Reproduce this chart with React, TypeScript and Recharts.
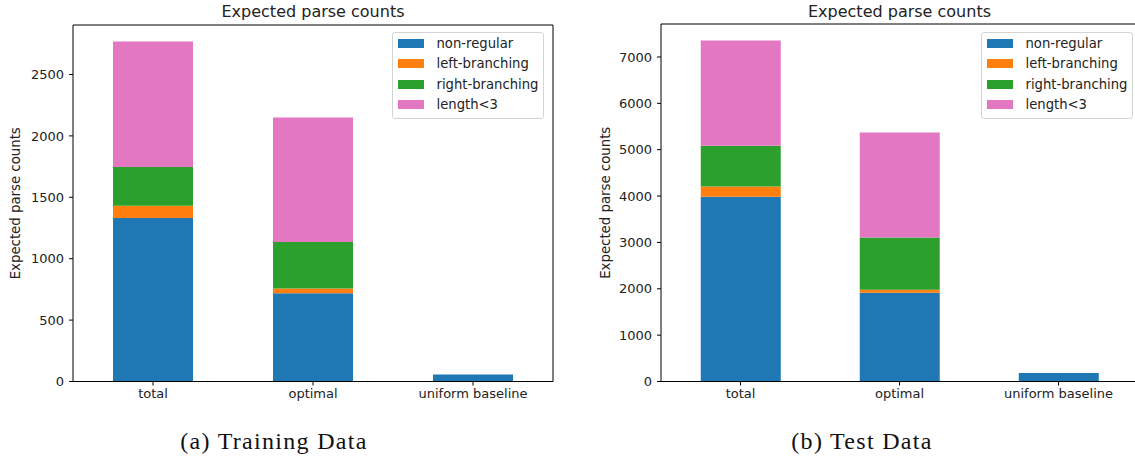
import React from 'react';
import { BarChart, Bar, XAxis, YAxis, Legend } from 'recharts';

const categories = ['total', 'optimal', 'uniform baseline'];
const seriesNames = ['non-regular', 'left-branching', 'right-branching', 'length<3'];
const seriesColors = ['#1f77b4', '#ff7f0e', '#2ca02c', '#e377c2'];

// training data
const trainNonRegular = [1332, 718, 57];
const trainLeft = [100, 40, 0];
const trainRight = [315, 378, 0];
const trainShort = [1022, 1013, 0];
const trainTicks = [0, 500, 1000, 1500, 2000, 2500];

// test data, panel (b)
const testNonRegular = [3985, 1914, 181];
const testLeft = [223, 65, 0];
const testRight = [878, 1128, 0];
const testShort = [2272, 2266, 0];
const testTicks = [0, 1000, 2000, 3000, 4000, 5000, 6000, 7000];

const FONT = '"DejaVu Sans", sans-serif';
const keys = ['nonRegular', 'left', 'right', 'short'];

function buildRows(a: number[], b: number[], c: number[], d: number[]) {
  return categories.map((name, i) => ({
    name,
    nonRegular: a[i],
    left: b[i],
    right: c[i],
    short: d[i],
  }));
}

const trainRows = buildRows(trainNonRegular, trainLeft, trainRight, trainShort);
const testRows = buildRows(testNonRegular, testLeft, testRight, testShort);

function LegendBox() {
  return (
    <div
      style={{
        width: 150,
        border: '1px solid #d4d4d4',
        borderRadius: 3,
        background: 'rgba(255,255,255,0.85)',
        paddingBottom: 2.5,
        fontFamily: FONT,
        fontSize: 13.2,
        color: '#222',
      }}
    >
      {seriesNames.map((n, i) => (
        <div key={n} style={{ display: 'flex', alignItems: 'center', height: 20.5 }}>
          <span
            style={{
              display: 'inline-block',
              width: 26,
              height: 9,
              marginLeft: 5,
              marginRight: 12.5,
              background: seriesColors[i],
            }}
          />
          <span style={{ whiteSpace: 'nowrap' }}>{n}</span>
        </div>
      ))}
    </div>
  );
}

function YLabel({ viewBox, at }: any) {
  const x = (viewBox?.x ?? 0) + at;
  const y = (viewBox?.y ?? 0) + (viewBox?.height ?? 0) / 2;
  return (
    <text
      x={x}
      y={y}
      transform={`rotate(-90, ${x}, ${y})`}
      textAnchor="middle"
      dominantBaseline="central"
      fontFamily={FONT}
      fontSize={13.3}
      fill="#222"
    >
      Expected parse counts
    </text>
  );
}

function Panel({ rows, ticks, max, width, yWidth, top, right, labelAt, legendLeft }: any) {
  const axisStyle = { stroke: '#000', strokeWidth: 1 };
  const tickStyle = { fill: '#222', fontSize: 13, fontFamily: FONT };
  return (
    <BarChart
      width={width}
      height={401}
      data={rows}
      margin={{ top: top - 1, right: right - 1, left: 0, bottom: 0 }}
      barCategoryGap="25%"
    >
      <XAxis
        dataKey="name"
        height={401 - 381.5}
        axisLine={axisStyle}
        tickLine={axisStyle}
        tickSize={4}
        tickMargin={3}
        tick={tickStyle}
      />
      <XAxis
        xAxisId="top"
        orientation="top"
        dataKey="name"
        height={1}
        axisLine={axisStyle}
        tick={false}
        tickLine={false}
      />
      <YAxis
        type="number"
        domain={[0, max]}
        ticks={ticks}
        width={yWidth}
        axisLine={axisStyle}
        tickLine={axisStyle}
        tickSize={4}
        tickMargin={5}
        tick={tickStyle}
        label={<YLabel at={labelAt} />}
      />
      <YAxis
        yAxisId="right"
        orientation="right"
        type="number"
        domain={[0, max]}
        width={1}
        axisLine={axisStyle}
        tick={false}
        tickLine={false}
      />
      <Legend
        layout="vertical"
        align="center"
        verticalAlign="middle"
        content={() => <LegendBox />}
        wrapperStyle={{ left: legendLeft, top: 32, width: 152, height: 'auto' }}
      />
      {keys.map((k, i) => (
        <Bar
          key={k}
          dataKey={k}
          name={seriesNames[i]}
          stackId="s"
          fill={seriesColors[i]}
          isAnimationActive={false}
        />
      ))}
    </BarChart>
  );
}

export default function App() {
  const title: React.CSSProperties = {
    position: 'absolute',
    top: 0,
    height: 24,
    lineHeight: '24px',
    textAlign: 'center',
    fontFamily: FONT,
    fontSize: 16,
    color: '#222',
  };
  const caption: React.CSSProperties = {
    position: 'absolute',
    top: 426,
    height: 30,
    lineHeight: '30px',
    textAlign: 'center',
    fontFamily: '"Liberation Serif", serif',
    fontSize: 24,
    letterSpacing: 1.3,
    color: '#111',
  };
  return (
    <div
      style={{
        position: 'absolute',
        left: 0,
        top: 0,
        width: 1135,
        height: 459,
        overflow: 'hidden',
        background: '#fff',
      }}
    >
      <div style={{ position: 'absolute', left: 0, top: 0 }}>
        <Panel
          rows={trainRows}
          ticks={trainTicks}
          max={2903}
          width={570}
          yWidth={73}
          top={25}
          right={17}
          labelAt={15.5}
          legendLeft={392}
        />
      </div>
      <div style={{ position: 'absolute', left: 580, top: 0 }}>
        <Panel
          rows={testRows}
          ticks={testTicks}
          max={7712}
          width={560}
          yWidth={81}
          top={24}
          right={2}
          labelAt={25}
          legendLeft={401}
        />
      </div>
      <div style={{ ...title, left: 73, width: 480 }}>Expected parse counts</div>
      <div style={{ ...title, left: 661, width: 477 }}>Expected parse counts</div>
      <div style={{ ...caption, left: 174, width: 200 }}>(a) Training Data</div>
      <div style={{ ...caption, left: 762, width: 200 }}>(b) Test Data</div>
    </div>
  );
}
